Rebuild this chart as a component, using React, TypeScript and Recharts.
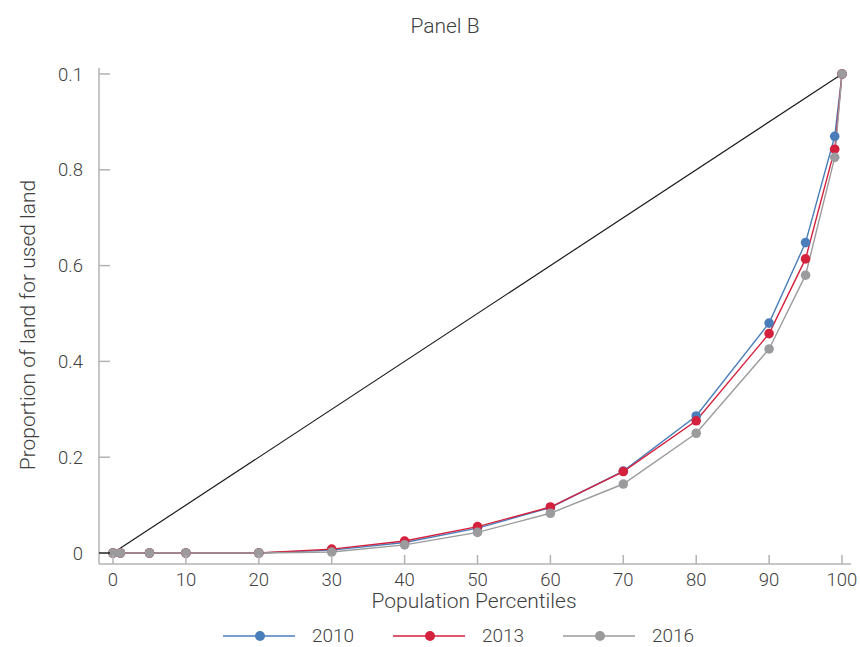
import { LineChart, Line, XAxis, YAxis, Legend, Label } from "recharts"

const percentiles = [0, 1, 5, 10, 20, 30, 40, 50, 60, 70, 80, 90, 95, 99, 100]
const share2010 = [0, 0, 0, 0, 0, 0.006, 0.022, 0.052, 0.095, 0.171, 0.286, 0.48, 0.648, 0.87, 1]
const share2013 = [0, 0, 0, 0, 0, 0.008, 0.025, 0.055, 0.096, 0.17, 0.276, 0.458, 0.614, 0.843, 1]
const share2016 = [0, 0, 0, 0, 0, 0.002, 0.017, 0.043, 0.083, 0.144, 0.25, 0.426, 0.58, 0.826, 1]
// line of equality, only its two ends
const equality = [0, null, null, null, null, null, null, null, null, null, null, null, null, null, 1]

const xTicks = [0, 10, 20, 30, 40, 50, 60, 70, 80, 90, 100]
const yTicks = [0, 0.2, 0.4, 0.6, 0.8, 1]
const yTickLabels = ["0", "0.2", "0.4", "0.6", "0.8", "0.1"]

const series = [
  { key: "y2010", name: "2010", color: "#4a7ebb" },
  { key: "y2013", name: "2013", color: "#d4213d" },
  { key: "y2016", name: "2016", color: "#9b9b9d" },
]

const data = percentiles.map((p, i) => ({
  p,
  y2010: share2010[i],
  y2013: share2013[i],
  y2016: share2016[i],
  eq: equality[i],
}))

const FONT = "Roboto, 'Noto Sans', sans-serif"
const TEXT = "#3f3f3f"
const AXIS = "#b3b3b3"

const XTick = (props: any) => {
  const { x, y, payload } = props
  return (
    <g>
      <line x1={x} x2={x} y1={y} y2={y - 9} stroke={AXIS} strokeWidth={1.5} />
      <text x={x} y={y + 22} textAnchor="middle" fill={TEXT} fontSize={18.5} fontWeight={300} fontFamily={FONT}>
        {payload.value}
      </text>
    </g>
  )
}

const YTick = (props: any) => {
  const { x, y, payload } = props
  const idx = yTicks.indexOf(payload.value)
  return (
    <g>
      <line x1={x} x2={x + 11} y1={y} y2={y} stroke={payload.value === 0 ? "#222" : AXIS} strokeWidth={1.5} />
      <text x={x - 16} y={y + 6.5} textAnchor="end" fill={TEXT} fontSize={18.5} fontWeight={300} fontFamily={FONT}>
        {idx >= 0 ? yTickLabels[idx] : payload.value}
      </text>
    </g>
  )
}

const LegendContent = () => (
  <div style={{ display: "flex", fontFamily: FONT, fontWeight: 300, fontSize: 19, color: TEXT }}>
    {series.map((s) => (
      <div key={s.key} style={{ width: 170, display: "flex", alignItems: "center" }}>
        <svg width={72} height={12}>
          <line x1={0} x2={72} y1={6} y2={6} stroke={s.color} strokeWidth={1.5} />
          <circle cx={37} cy={6} r={5} fill={s.color} />
        </svg>
        <span style={{ marginLeft: 17 }}>{s.name}</span>
      </div>
    ))}
  </div>
)

export default function App() {
  return (
    <div style={{ position: "absolute", left: 0, top: 0, width: 860, height: 647, background: "#fff" }}>
      <LineChart
        width={860}
        height={647}
        data={data}
        margin={{ top: 68, right: 9, left: 39, bottom: 53 }}
      >
        <XAxis
          dataKey="p"
          type="number"
          domain={[0, 100]}
          ticks={xTicks}
          padding={{ left: 14, right: 9 }}
          stroke={AXIS}
          strokeWidth={1.5}
          tickSize={0}
          tickMargin={0}
          tickLine={false}
          tick={<XTick />}
          height={30}
        >
          <Label
            content={() => (
              <text x={474} y={608} textAnchor="middle" fill={TEXT} fontSize={21} fontWeight={300} fontFamily={FONT}>
                Population Percentiles
              </text>
            )}
          />
        </XAxis>
        <YAxis
          type="number"
          domain={[0, 1]}
          ticks={yTicks}
          padding={{ top: 6, bottom: 11 }}
          stroke={AXIS}
          strokeWidth={1.5}
          tickSize={0}
          tickMargin={0}
          tickLine={false}
          tick={<YTick />}
          width={60}
        >
          <Label
            content={() => (
              <g>
                <text
                  transform="translate(35 325) rotate(-90)"
                  textAnchor="middle"
                  fill={TEXT}
                  fontSize={21}
                  fontWeight={300}
                  fontFamily={FONT}
                >
                  Proportion of land for used land
                </text>
                <text x={445} y={33} textAnchor="middle" fill={TEXT} fontSize={21} fontWeight={300} fontFamily={FONT}>
                  Panel B
                </text>
              </g>
            )}
          />
        </YAxis>
        <Legend
          layout="horizontal"
          verticalAlign="middle"
          align="center"
          wrapperStyle={{ top: 624, left: 223, width: 520 }}
          content={<LegendContent />}
        />
        <Line
          dataKey="eq"
          stroke="#1a1a1a"
          strokeWidth={1.2}
          dot={false}
          connectNulls
          isAnimationActive={false}
          legendType="none"
        />
        {series.map((s) => (
          <Line
            key={s.key}
            dataKey={s.key}
            name={s.name}
            stroke={s.color}
            strokeWidth={1.4}
            dot={{ r: 4.8, fill: s.color, stroke: "none" }}
            activeDot={false}
            isAnimationActive={false}
          />
        ))}
      </LineChart>
    </div>
  )
}
